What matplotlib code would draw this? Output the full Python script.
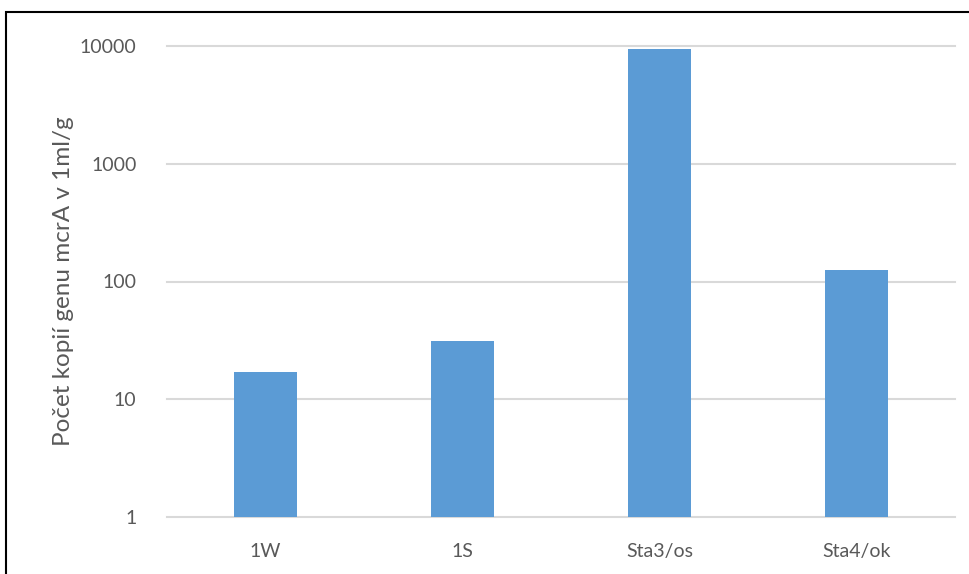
import matplotlib
matplotlib.use("Agg")
import matplotlib.pyplot as plt
from matplotlib.patches import Rectangle

categories = ["1W", "1S", "Sta3/os", "Sta4/ok"]
values = [17, 31, 9400, 125]
ytick_values = [1, 10, 100, 1000, 10000]
ytick_labels = ["1", "10", "100", "1000", "10000"]
ylabel = "Počet kopií genu mcrA v 1ml/g"

W, H = 970, 574
fig = plt.figure(figsize=(W / 100, H / 100), dpi=100)
plt.rcParams["font.family"] = ["Lato", "DejaVu Sans"]

left, right = 167, 955
top, bottom = 46, 517
ax = fig.add_axes([left / W, 1 - bottom / H, (right - left) / W, (bottom - top) / H])

text_color = "#595959"
grid_color = "#D9D9D9"

x = range(len(categories))
ax.bar(x, values, width=0.315, color="#5B9BD5", zorder=3, bottom=0)
ax.set_yscale("log")
ax.set_ylim(1, 10000)
ax.set_xlim(-0.5, len(categories) - 0.5)

ax.set_yticks(ytick_values)
ax.set_yticklabels(ytick_labels)
ax.minorticks_off()
ax.set_xticks(list(x))
ax.set_xticklabels(categories)

ax.tick_params(axis="both", length=0, colors=text_color, labelsize=14)
ax.tick_params(axis="y", pad=22)
ax.tick_params(axis="x", pad=19)

for v in ytick_values:
    ax.axhline(v, color=grid_color, linewidth=1.5, zorder=1, clip_on=False)

for s in ax.spines.values():
    s.set_visible(False)

ax.set_ylabel(ylabel, fontsize=17.5, color=text_color)
ax.yaxis.set_label_coords(-(left - 74) / (right - left), 0.5)

# outer frame around the whole chart
frame = Rectangle((6 / W, -0.02), 1.02, 1 - 12 / H + 0.02, transform=fig.transFigure,
                  fill=False, edgecolor="black", linewidth=1.5, clip_on=False)
fig.patches.append(frame)

fig.savefig("out.png", dpi=100, facecolor="white")
